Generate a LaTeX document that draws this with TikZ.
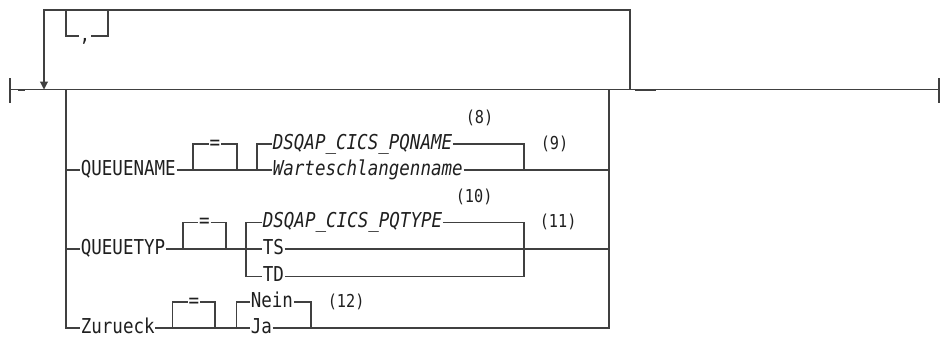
\documentclass[tikz,border=0pt]{standalone}
\usepackage{fontspec}
\usepackage{tikz}
\usetikzlibrary{arrows.meta}
\newfontfamily\diagfont[FakeStretch=0.855]{DejaVu Sans Mono}

\begin{document}
\begin{tikzpicture}[x=1pt, y=-1pt, >={Triangle[width=8pt,length=8pt]},
        line width=1.1pt, color=black!75,
        kw/.style={font={\diagfont\fontsize{20.5}{20.5}\selectfont}, text=black!88, inner sep=0pt, outer sep=0.8pt, text height=10.6pt, text depth=0pt, anchor=west},
        var/.style={kw, font={\diagfont\itshape\fontsize{20.5}{20.5}\selectfont}},
        fnote/.style={kw, font={\diagfont\fontsize{17.8}{17.8}\selectfont}}]
        \useasboundingbox (0,0) rectangle (942,337);
        % main line with end bars
        \draw[line width=1.8pt] (10,78) -- (10,103);
        \draw[line width=1.8pt] (939,78) -- (939,103);
        \draw (10,89.5) -- (939,89.5);
        \draw[line width=1.8pt] (18,89.8) -- (25,89.8);
        \draw[line width=1.8pt] (635,89.8) -- (656,89.8);
        % repeat loop with separator
        \node[kw, anchor=center] (comma) at (85,36) {,};
        \draw[->] (630,89.5) |- (44,10) -- (44,89.5);
        \draw (66,10) |- (comma.west);
        \draw (comma.east) -| (108,10);
        % keywords
        \node[kw] (qn) at (80,170) {QUEUENAME};
        \node[kw] (qt) at (80,249) {QUEUETYP};
        \node[kw] (zu) at (80,328) {Zurueck};
        \node[kw, anchor=center] (eqn) at (215,144) {=};
        \node[kw, anchor=center] (eqt) at (204.5,222.5) {=};
        \node[kw, anchor=center] (eqz) at (194,302) {=};
        % values
        \node[var] (pqname) at (272,144) {DSQAP\_CICS\_PQNAME};
        \node[var] (wname) at (272,170) {Warteschlangenname};
        \node[var] (pqtype) at (262,222.5) {DSQAP\_CICS\_PQTYPE};
        \node[kw] (ts) at (262,249) {TS};
        \node[kw] (td) at (262,276.5) {TD};
        \node[kw] (nein) at (250,302) {Nein};
        \node[kw] (ja) at (250,328) {Ja};
        % notes
        \node[fnote] (n8) at (465,118) {(8)};
        \node[fnote] (n9) at (540,144) {(9)};
        \node[fnote] (n10) at (455,197.5) {(10)};
        \node[fnote] (n11) at (539,222.5) {(11)};
        \node[fnote] (n12) at (327,302) {(12)};
        % choice box
        \draw (66,89.5) |- (zu.west);
        \draw (ja.east) -| (609,89.5);
        % QUEUENAME row
        \draw (66,170) -- (qn.west);
        \draw (qn.east) -- (wname.west);
        \draw (193,170) |- (eqn.west);
        \draw (eqn.east) -| (237,170);
        \draw (257,170) |- (pqname.west);
        \draw (pqname.east) -| (524,170);
        \draw (wname.east) -- (609,170);
        % QUEUETYP row
        \draw (66,249) -- (qt.west);
        \draw (qt.east) -- (ts.west);
        \draw (183,249) |- (eqt.west);
        \draw (eqt.east) -| (226,249);
        \draw (pqtype.west) -| (246,249) |- (td.west);
        \draw (pqtype.east) -| (524,249) |- (td.east);
        \draw (ts.east) -- (609,249);
        % Zurueck row
        \draw (zu.east) -- (ja.west);
        \draw (172.7,328) |- (eqz.west);
        \draw (eqz.east) -| (215,328);
        \draw (nein.west) -| (236.7,328);
        \draw (nein.east) -| (311,328);
    \end{tikzpicture}
\end{document}
